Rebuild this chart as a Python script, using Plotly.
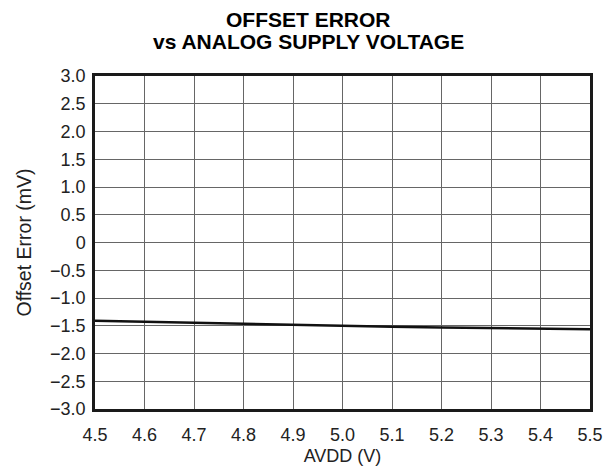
import plotly.graph_objects as go

avdd = [4.5, 4.6, 4.7, 4.8, 4.9, 5.0, 5.1, 5.2, 5.3, 5.4, 5.5]
offset_error = [-1.41, -1.43, -1.45, -1.47, -1.49, -1.51, -1.52, -1.53, -1.54, -1.56, -1.565]

x_ticks = [4.5, 4.6, 4.7, 4.8, 4.9, 5.0, 5.1, 5.2, 5.3, 5.4, 5.5]
x_labels = ["4.5", "4.6", "4.7", "4.8", "4.9", "5.0", "5.1", "5.2", "5.3", "5.4", "5.5"]
y_ticks = [3.0, 2.5, 2.0, 1.5, 1.0, 0.5, 0, -0.5, -1.0, -1.5, -2.0, -2.5, -3.0]
y_labels = ["3.0", "2.5", "2.0", "1.5", "1.0", "0.5", "0", "\u22120.5", "\u22121.0",
            "\u22121.5", "\u22122.0", "\u22122.5", "\u22123.0"]
title_lines = ["OFFSET ERROR", "vs ANALOG SUPPLY VOLTAGE"]

font_family = "Liberation Sans, Arial, Helvetica, sans-serif"
txt = "#222222"
fs = 18

fig = go.Figure()
fig.add_trace(go.Scatter(x=avdd, y=offset_error, mode="lines",
                         line=dict(color="#111111", width=2.5), showlegend=False,
                         hoverinfo="skip"))

fig.update_layout(
    width=615, height=476,
    margin=dict(l=95, r=24, t=76, b=63),
    paper_bgcolor="white", plot_bgcolor="white",
    font=dict(family=font_family, color=txt, size=fs),
)
for line_text, ypos in zip(title_lines, [1.169, 1.104]):
    fig.add_annotation(text="<b>" + line_text + "</b>", xref="paper", yref="paper",
                       x=0.431, y=ypos, xanchor="center", yanchor="middle",
                       showarrow=False, font=dict(size=21, color="#000000", family=font_family))

fig.update_xaxes(range=[4.5, 5.5], tickvals=x_ticks, ticktext=x_labels,
                 showgrid=True, gridcolor="#666666", gridwidth=1,
                 showline=True, linecolor="#1a1a1a", linewidth=2.5, mirror=True,
                 ticks="", ticklen=0, zeroline=False, ticklabelstandoff=8,
                 tickfont=dict(size=fs, color=txt),
                 title=dict(text="AVDD (V)", font=dict(size=fs, color=txt), standoff=6))
fig.update_yaxes(range=[-3.0, 3.0], tickvals=y_ticks, ticktext=y_labels,
                 showgrid=True, gridcolor="#666666", gridwidth=1,
                 showline=True, linecolor="#1a1a1a", linewidth=2.5, mirror=True,
                 ticks="", ticklen=0, zeroline=False, ticklabelstandoff=3,
                 tickfont=dict(size=fs, color=txt),
                 title=dict(text="Offset Error (mV)", font=dict(size=19.5, color=txt), standoff=14))

fig.write_html("out.html", config={"displayModeBar": False},
               post_script="document.body.style.margin='0';")
